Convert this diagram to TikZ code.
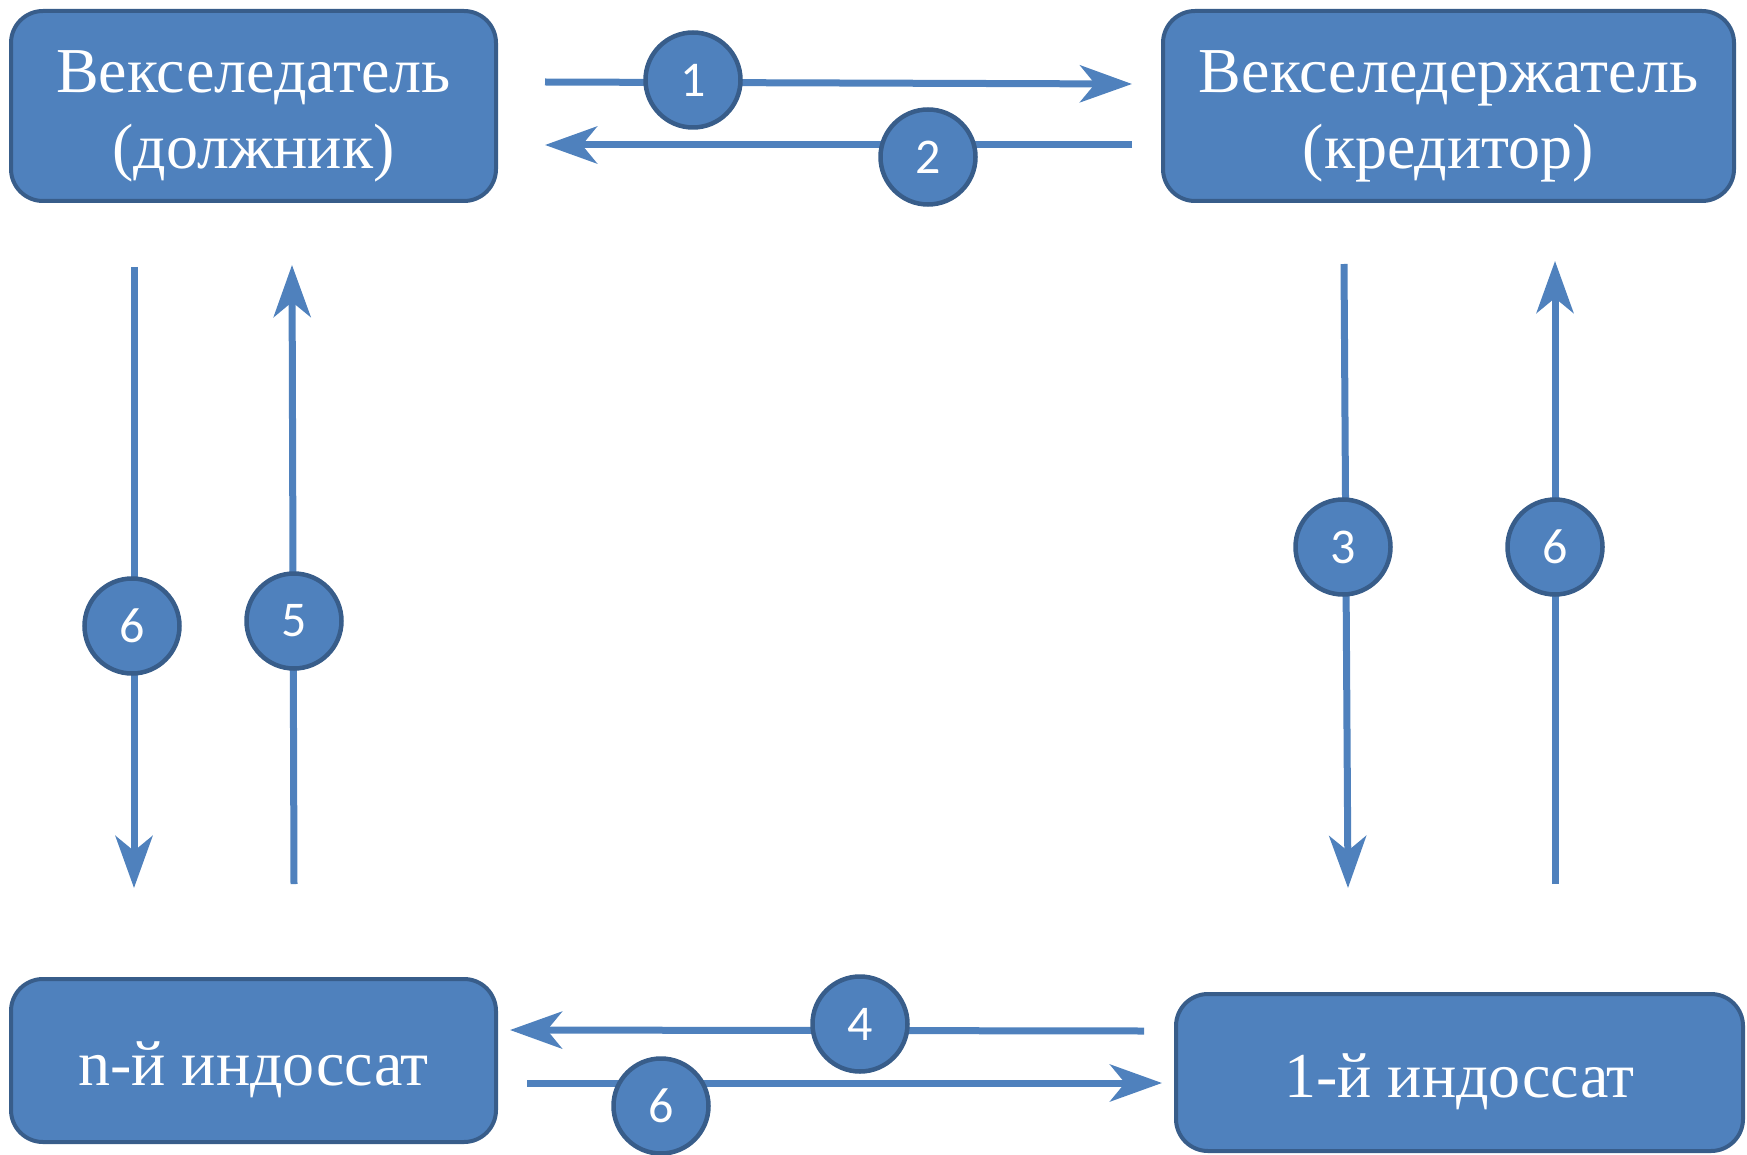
\documentclass[tikz,border=0pt]{standalone}
\usepackage{fontspec}
\setmainfont{Liberation Serif}
\newfontfamily\numfont{Carlito}
\usetikzlibrary{arrows.meta}
\definecolor{boxfill}{HTML}{4F81BD}
\definecolor{boxline}{HTML}{385D8A}
\newcommand{\upstrut}{\rule{0pt}{62pt}}
\tikzset{
  box/.style={draw=boxline, line width=4pt, fill=boxfill, rounded corners=32pt,
    text=white, align=center, inner sep=0pt,
    font=\fontsize{64}{76}\selectfont},
  numcirc/.style={circle, draw=boxline, line width=4.5pt, fill=boxfill,
    minimum size=95pt, inner sep=0pt, text=white,
    font=\numfont\fontsize{50}{50}\selectfont},
  flow/.style={draw=boxfill, line width=7pt,
    -{Stealth[length=52pt, width=37pt, inset=15pt]}},
}
\begin{document}
\begin{tikzpicture}[x=1pt, y=-1pt]
\useasboundingbox (0,0) rectangle (1747,1155);

% boxes
\node[box, minimum width=485pt, minimum height=190pt] (A) at (253.5,106)
  {\upstrut Векселедатель\\(должник)};
\node[box, minimum width=571pt, minimum height=190pt] (B) at (1448.5,106)
  {\upstrut Векселедержатель\\(кредитор)};
\node[box, minimum width=485pt, minimum height=163pt] (C) at (253.5,1060.5)
  {\upstrut n-й индоссат};
\node[box, minimum width=567pt, minimum height=157pt] (D) at (1459.5,1072.5)
  {\upstrut 1-й индоссат};

% arrow end points
\coordinate (a1s) at (545,82);
\coordinate (a1e) at (1132,84);
\coordinate (a2s) at (1132,145);
\coordinate (a2e) at (545,145);
\coordinate (l6s) at (134,267);
\coordinate (l6e) at (134,888);
\coordinate (l5s) at (294,884);
\coordinate (l5e) at (292,265);
\coordinate (r3s) at (1344,264);
\coordinate (r3e) at (1348,888);
\coordinate (r6s) at (1555,884);
\coordinate (r6e) at (1555,261);
\coordinate (b4s) at (1144,1031);
\coordinate (b4e) at (510,1030);
\coordinate (b6s) at (527,1083);
\coordinate (b6e) at (1162,1083);

% arrows
\draw[flow] (a1s) -- (a1e);
\draw[flow] (a2s) -- (a2e);
\draw[flow] (l6s) -- (l6e);
\draw[flow] (l5s) -- (l5e);
\draw[flow] (r3s) -- (r3e);
\draw[flow] (r6s) -- (r6e);
\draw[flow] (b4s) -- (b4e);
\draw[flow] (b6s) -- (b6e);

% numbered circles
\node[numcirc] (n1) at (693,80) {1};
\node[numcirc] (n2) at (928,157) {2};
\node[numcirc] (nl6) at (132,626) {6};
\node[numcirc] (nl5) at (294,621) {5};
\node[numcirc] (nr3) at (1343,547) {3};
\node[numcirc] (nr6) at (1555,547) {6};
\node[numcirc] (n4) at (860,1024) {4};
\node[numcirc] (nb6) at (661,1106) {6};
\end{tikzpicture}
\end{document}
